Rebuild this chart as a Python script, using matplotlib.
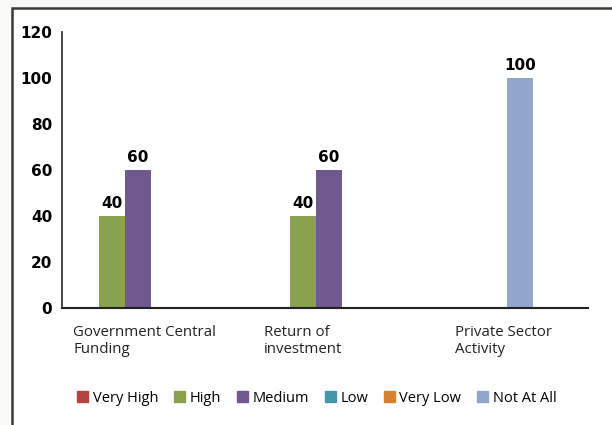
import matplotlib
matplotlib.use("Agg")
import matplotlib.pyplot as plt
from matplotlib.patches import Rectangle

categories = ["Government Central\nFunding", "Return of\ninvestment", "Private Sector\nActivity"]
series = ["Very High", "High", "Medium", "Low", "Very Low", "Not At All"]
colors = ["#b0463f", "#8aa250", "#6f598e", "#4596aa", "#d7802d", "#92a6cb"]
values = [
    [0, 40, 60, 0, 0, 0],
    [0, 40, 60, 0, 0, 0],
    [0, 0, 0, 0, 0, 100],
]
# slot where the first drawn bar of each category starts
first_slot = [0, 0, 1]

fig = plt.figure(figsize=(6.12, 4.25), dpi=100, facecolor="#f9f9f5")
fig.patches.append(Rectangle((12 / 612, -0.05), 1.0, 1 - 8 / 425 + 0.05,
                             transform=fig.transFigure, facecolor="white",
                             edgecolor="#3a3a3a", linewidth=1.8, zorder=-5))

ax = fig.add_axes([62 / 612, 1 - 308 / 425, 526 / 612, 276 / 425])
ax.set_facecolor("none")

bar_w = 0.136
x0 = 0.194
for ci, row in enumerate(values):
    slot = first_slot[ci]
    for si, v in enumerate(row):
        if v == 0:
            continue
        x = ci + x0 + slot * bar_w
        ax.bar(x, v, width=bar_w, align="edge", color=colors[si], zorder=2)
        ax.text(x + bar_w / 2, v + 2, str(v), ha="center", va="bottom",
                fontsize=11, fontweight="bold", family="DejaVu Sans")
        slot += 1

for ci, name in enumerate(categories):
    ax.text(ci + 0.058, -7.5, name, ha="left", va="top", fontsize=10.8,
            family="Open Sans", color="#222222", linespacing=1.2)

ax.set_xlim(0, 526 / 191)
ax.set_ylim(0, 120)
ax.set_yticks(range(0, 121, 20))
ax.set_xticks([])
ax.tick_params(axis="y", length=0, pad=7, labelsize=11)
for lab in ax.get_yticklabels():
    lab.set_fontweight("bold")
for s in ["top", "right"]:
    ax.spines[s].set_visible(False)
ax.spines["left"].set_color("#3a3a3a")
ax.spines["bottom"].set_color("#222222")
ax.spines["left"].set_linewidth(1.3)
ax.spines["bottom"].set_linewidth(1.5)

handles = [Rectangle((0, 0), 1, 1, color=c) for c in colors]
fig.legend(handles, series, loc="center", bbox_to_anchor=(0.518, 0.063),
           ncol=6, frameon=False, handlelength=0.75, handleheight=0.75,
           handletextpad=0.3, columnspacing=1.1,
           prop={"family": "Open Sans", "size": 10.5})

fig.savefig("out.png", dpi=100, facecolor=fig.get_facecolor())
